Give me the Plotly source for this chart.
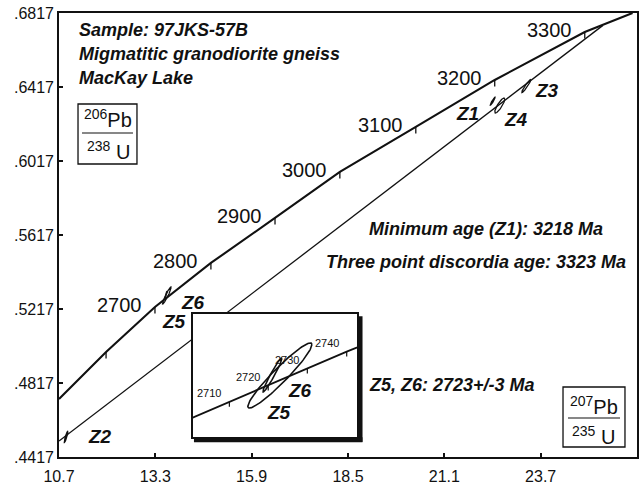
import numpy as np
import plotly.graph_objects as go

# ---------------- data ----------------
# main concordia curve (207Pb/235U, 206Pb/238U) with ages in Ma
conc_age = [2497, 2600, 2700, 2800, 2900, 3000, 3100, 3200, 3300, 3351]
conc_x = [10.70, 11.97, 13.29, 14.80, 16.53, 18.28, 20.33, 22.46, 24.89, 26.18]
conc_y = [0.4731, 0.4985, 0.5228, 0.5466, 0.5709, 0.5958, 0.6201, 0.6455, 0.6714, 0.6817]
tick_ages = [2600, 2700, 2800, 2900, 3000, 3100, 3200, 3300]
label_ages = [2700, 2800, 2900, 3000, 3100, 3200, 3300]

# discordia line (lower end at axis, upper intercept 3323 Ma)
disc_x = [10.70, 25.38]
disc_y = [0.4503, 0.6750]

# inset concordia
inset_age = [2700, 2710, 2720, 2730, 2740, 2750]
inset_x = [13.280, 13.424, 13.567, 13.711, 13.856, 14.003]
inset_y = [0.5229, 0.5253, 0.5276, 0.5300, 0.5324, 0.5347]
inset_tick_ages = [2710, 2720, 2730, 2740]

# error ellipses: centre, half-extent in x and y, correlation
ell_name = ["Z1", "Z2", "Z3", "Z4", "Z5", "Z6"]
ell_cx = [22.408, 10.889, 23.311, 22.596, 13.610, 13.5825]
ell_cy = [0.6341, 0.4525, 0.6422, 0.6317, 0.52902, 0.52909]
ell_sx = [0.067, 0.050, 0.121, 0.135, 0.118, 0.035]
ell_sy = [0.00216, 0.0030, 0.0035, 0.00405, 0.00462, 0.00241]
ell_rho = [0.95, 0.90, 0.95, 0.85, 0.95, 0.97]
ell_filled = [True, True, False, False, False, False]
inset_names = ["Z5", "Z6"]

x_ticks = [10.7, 13.3, 15.9, 18.5, 21.1, 23.7, 26.3]
x_ticktext = ["10.7", "13.3", "15.9", "18.5", "21.1", "23.7", "26.3"]
y_ticks = [0.4417, 0.4817, 0.5217, 0.5617, 0.6017, 0.6417, 0.6817]
y_ticktext = [".4417", ".4817", ".5217", ".5617", ".6017", ".6417", ".6817"]

inset_xrange = [13.290, 13.894]
inset_yrange = [0.52029, 0.53775]

# ---------------- styling ----------------
FONT = "Liberation Sans, Arial, Helvetica, sans-serif"
BLACK = "#111111"
main_label_off = {"Z1": (-25, -12), "Z2": (34, 1), "Z3": (21, -4), "Z4": (16, -14),
                  "Z5": (7, -26), "Z6": (27, -7)}
inset_label_off = {"Z5": (-1, -37), "Z6": (28, -15)}


def ellipse(cx, cy, sx, sy, rho, n=100):
    t = np.linspace(0, 2 * np.pi, n)
    x = cx + sx * np.cos(t)
    y = cy + sy * (rho * np.cos(t) + np.sqrt(1 - rho ** 2) * np.sin(t))
    return x, y


fig = go.Figure()

# discordia
fig.add_trace(go.Scatter(x=disc_x, y=disc_y, mode="lines",
                         line=dict(color=BLACK, width=1.3), xaxis="x", yaxis="y"))
# concordia
fig.add_trace(go.Scatter(x=conc_x, y=conc_y, mode="lines",
                         line=dict(color=BLACK, width=2.1), xaxis="x", yaxis="y"))
# concordia ticks
tx, ty = [], []
for a in tick_ages:
    i = conc_age.index(a)
    tx += [conc_x[i], conc_x[i], None]
    ty += [conc_y[i], conc_y[i] - 0.0035, None]
fig.add_trace(go.Scatter(x=tx, y=ty, mode="lines", line=dict(color=BLACK, width=1.3),
                         xaxis="x", yaxis="y"))

# ellipses in main plot
for k, name in enumerate(ell_name):
    ex, ey = ellipse(ell_cx[k], ell_cy[k], ell_sx[k], ell_sy[k], ell_rho[k])
    fig.add_trace(go.Scatter(x=ex, y=ey, mode="lines",
                             fill="toself" if ell_filled[k] else None,
                             fillcolor=BLACK if ell_filled[k] else None,
                             line=dict(color=BLACK, width=1.3), xaxis="x", yaxis="y"))

# ---- inset ----
fig.add_trace(go.Scatter(x=inset_x, y=inset_y, mode="lines",
                         line=dict(color=BLACK, width=1.8), xaxis="x2", yaxis="y2"))
itx, ity = [], []
for a in inset_tick_ages:
    i = inset_age.index(a)
    itx += [inset_x[i], inset_x[i], None]
    ity += [inset_y[i], inset_y[i] - 0.0007, None]
fig.add_trace(go.Scatter(x=itx, y=ity, mode="lines", line=dict(color=BLACK, width=1.2),
                         xaxis="x2", yaxis="y2"))
for name in inset_names:
    k = ell_name.index(name)
    ex, ey = ellipse(ell_cx[k], ell_cy[k], ell_sx[k], ell_sy[k], ell_rho[k])
    fig.add_trace(go.Scatter(x=ex, y=ey, mode="lines",
                             line=dict(color=BLACK, width=1.6), xaxis="x2", yaxis="y2"))

annotations = []
# concordia age labels (main)
for a in label_ages:
    i = conc_age.index(a)
    annotations.append(dict(x=conc_x[i], y=conc_y[i], xref="x", yref="y", text=str(a),
                            showarrow=False, xanchor="right", yanchor="middle",
                            xshift=-11, yshift=2, font=dict(family=FONT, size=20, color=BLACK)))
# inset age labels
for a in inset_tick_ages:
    i = inset_age.index(a)
    annotations.append(dict(x=inset_x[i], y=inset_y[i], xref="x2", yref="y2", text=str(a),
                            showarrow=False, xanchor="right", yanchor="middle",
                            xshift=-6, yshift=9, font=dict(family=FONT, size=11, color=BLACK)))
# ellipse labels
bi = dict(family=FONT, size=19, color=BLACK)
for k, name in enumerate(ell_name):
    dx, dy = main_label_off[name]
    annotations.append(dict(x=ell_cx[k], y=ell_cy[k], xref="x", yref="y",
                            text="<b><i>%s</i></b>" % name, showarrow=False,
                            xshift=dx, yshift=dy, font=bi))
for name in inset_names:
    k = ell_name.index(name)
    dx, dy = inset_label_off[name]
    annotations.append(dict(x=ell_cx[k], y=ell_cy[k], xref="x2", yref="y2",
                            text="<b><i>%s</i></b>" % name, showarrow=False,
                            xshift=dx, yshift=dy, font=bi))

txt = dict(family=FONT, size=18, color=BLACK)
for s, yy in [("Sample: 97JKS-57B", 0.9617), ("Migmatitic granodiorite gneiss", 0.9077),
              ("MacKay Lake", 0.8536)]:
    annotations.append(dict(x=0.031, y=yy, xref="paper", yref="paper", xanchor="left",
                            yanchor="middle", text="<b><i>%s</i></b>" % s, showarrow=False,
                            font=txt))
for s, xx, yy in [("Minimum age (Z1): 3218 Ma", 0.7388, 0.5135),
                  ("Three point discordia age: 3323 Ma", 0.7215, 0.4392),
                  ("Z5, Z6: 2723+/-3 Ma", 0.6799, 0.1622)]:
    annotations.append(dict(x=xx, y=yy, xref="paper", yref="paper", xanchor="center",
                            yanchor="middle", text="<b><i>%s</i></b>" % s, showarrow=False,
                            font=txt))

# axis-ratio boxes
fr = dict(family=FONT, size=20, color=BLACK)
for top, bot, cx, ytop, ybot in [("<sup>206</sup>Pb", "<sup>238</sup> U", 0.0848, 0.7613, 0.6892),
                                 ("<sup>207</sup>Pb", "<sup>235</sup> U", 0.9256, 0.1149, 0.0473)]:
    annotations.append(dict(x=cx, y=ytop, xref="paper", yref="paper", text=top,
                            showarrow=False, font=fr, xanchor="center", yanchor="middle"))
    annotations.append(dict(x=cx, y=ybot, xref="paper", yref="paper", text=bot,
                            showarrow=False, font=fr, xanchor="center", yanchor="middle"))

shapes = [
    # white background hiding main lines behind the inset
    dict(type="rect", xref="x2", yref="y2", x0=inset_xrange[0], x1=inset_xrange[1],
         y0=inset_yrange[0], y1=inset_yrange[1], fillcolor="white",
         line=dict(width=0), layer="below"),
    # inset shadow edges
    dict(type="line", xref="paper", yref="paper", x0=0.5208, x1=0.5208, y0=0.317, y1=0.034,
         line=dict(color=BLACK, width=5)),
    dict(type="line", xref="paper", yref="paper", x0=0.2335, x1=0.5250, y0=0.0388, y1=0.0388,
         line=dict(color=BLACK, width=5)),
    # ratio boxes
    dict(type="rect", xref="paper", yref="paper", x0=0.0329, x1=0.1349, y0=0.6599, y1=0.7950,
         line=dict(color=BLACK, width=1.3)),
    dict(type="line", xref="paper", yref="paper", x0=0.0398, x1=0.1280, y0=0.7297, y1=0.7297,
         line=dict(color=BLACK, width=1.2)),
    dict(type="rect", xref="paper", yref="paper", x0=0.8720, x1=0.9792, y0=0.0225, y1=0.1577,
         line=dict(color=BLACK, width=1.3)),
    dict(type="line", xref="paper", yref="paper", x0=0.8806, x1=0.9706, y0=0.0878, y1=0.0878,
         line=dict(color=BLACK, width=1.2)),
]

axis_common = dict(showline=True, mirror=True, linecolor=BLACK, linewidth=1.6,
                   showgrid=False, zeroline=False)

fig.update_layout(
    width=641, height=486,
    margin=dict(l=59, r=4, t=13, b=29),
    paper_bgcolor="white", plot_bgcolor="white",
    showlegend=False,
    hovermode=False,
    font=dict(family=FONT, color=BLACK),
    xaxis=dict(range=[10.7, 26.3], tickvals=x_ticks, ticktext=x_ticktext,
               ticks="inside", ticklen=4, tickwidth=1.5, tickcolor=BLACK,
               ticklabelstandoff=4, automargin=False,
               tickfont=dict(family=FONT, size=16, color=BLACK), **axis_common),
    yaxis=dict(range=[0.4417, 0.6817], tickvals=y_ticks, ticktext=y_ticktext,
               ticks="inside", ticklen=4, tickwidth=1.5, tickcolor=BLACK, automargin=False,
               tickfont=dict(family=FONT, size=16, color=BLACK), **axis_common),
    xaxis2=dict(domain=[0.2318, 0.5156], range=inset_xrange, anchor="y2",
                showticklabels=False, ticks="", **axis_common),
    yaxis2=dict(domain=[0.0450, 0.3221], range=inset_yrange, anchor="x2",
                showticklabels=False, ticks="", **axis_common),
    annotations=annotations,
    shapes=shapes,
)

fig.write_html("out.html", config={"displayModeBar": False},
               post_script="document.body.style.margin='0px';")
